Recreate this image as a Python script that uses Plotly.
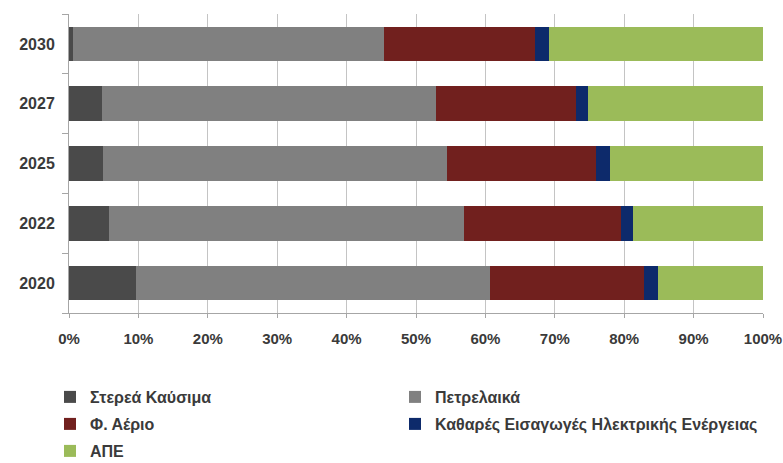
import plotly.graph_objects as go

years = ["2020", "2022", "2025", "2027", "2030"]
series_names = ["Στερεά Καύσιμα", "Πετρελαικά", "Φ. Αέριο",
                "Καθαρές Εισαγωγές Ηλεκτρικής Ενέργειας", "ΑΠΕ"]
solid = [9.6, 5.7, 4.9, 4.7, 0.6]
oil = [51.1, 51.2, 49.5, 48.2, 44.8]
gas = [22.1, 22.6, 21.6, 20.2, 21.7]
imports = [2.0, 1.7, 1.9, 1.7, 2.1]
res = [15.2, 18.8, 22.1, 25.2, 30.8]
x_ticks = [0, 10, 20, 30, 40, 50, 60, 70, 80, 90, 100]
x_tick_labels = ["0%", "10%", "20%", "30%", "40%", "50%", "60%", "70%", "80%", "90%", "100%"]

values = [solid, oil, gas, imports, res]
colors = ["#4a4a4a", "#808080", "#71201e", "#0d2a6b", "#9bbb59"]
legend_ids = ["legend", "legend2", "legend3", "legend4", "legend5"]
# legend placement (container px): left x, row centre y
legend_pos = [(50, 397), (395, 397), (50, 424), (395, 424), (50, 451)]

W, H = 783, 463
font_main = "Liberation Sans"
txt_col = "#3a3a3a"

fig = go.Figure()
for name, vals, col, lg in zip(series_names, values, colors, legend_ids):
    fig.add_trace(go.Bar(
        y=years, x=vals, name=name, orientation="h",
        marker=dict(color=col, line=dict(width=0)),
        legend=lg, showlegend=True,
    ))

layout_legends = {}
for lg, (lx, ly) in zip(legend_ids, legend_pos):
    layout_legends[lg] = dict(
        orientation="h", xref="container", yref="container",
        xanchor="left", yanchor="middle", x=lx / W, y=1 - ly / H,
        itemwidth=30,
        font=dict(family=font_main, size=16, color=txt_col, weight="bold"),
        bgcolor="rgba(0,0,0,0)",
    )

fig.update_layout(
    width=W, height=H, showlegend=True,
    barmode="stack", bargap=0.42,
    plot_bgcolor="white", paper_bgcolor="white",
    margin=dict(l=69, r=20, t=14, b=150),
    **layout_legends,
    xaxis=dict(
        range=[0, 100], tickvals=x_ticks, ticktext=x_tick_labels,
        showgrid=True, gridcolor="#c4c4c4", gridwidth=1,
        showline=True, linecolor="#a6a6a6", linewidth=1,
        ticks="outside", ticklen=4, tickcolor="#a6a6a6",
        ticklabelstandoff=8,
        tickfont=dict(family=font_main, size=15, color=txt_col, weight="bold"),
        zeroline=False, fixedrange=True, automargin=False,
    ),
    yaxis=dict(
        categoryorder="array", categoryarray=years,
        showline=True, linecolor="#a6a6a6", linewidth=1,
        ticks="outside", ticklen=6, tickcolor="#a6a6a6", tickson="boundaries",
        ticklabelstandoff=10,
        tickfont=dict(family=font_main, size=16, color=txt_col, weight="bold"),
        showgrid=False, fixedrange=True, automargin=False,
    ),
)

fig.write_html("out.html", config={"displayModeBar": False},
               post_script="document.body.style.margin='0';document.body.style.overflow='hidden';")
